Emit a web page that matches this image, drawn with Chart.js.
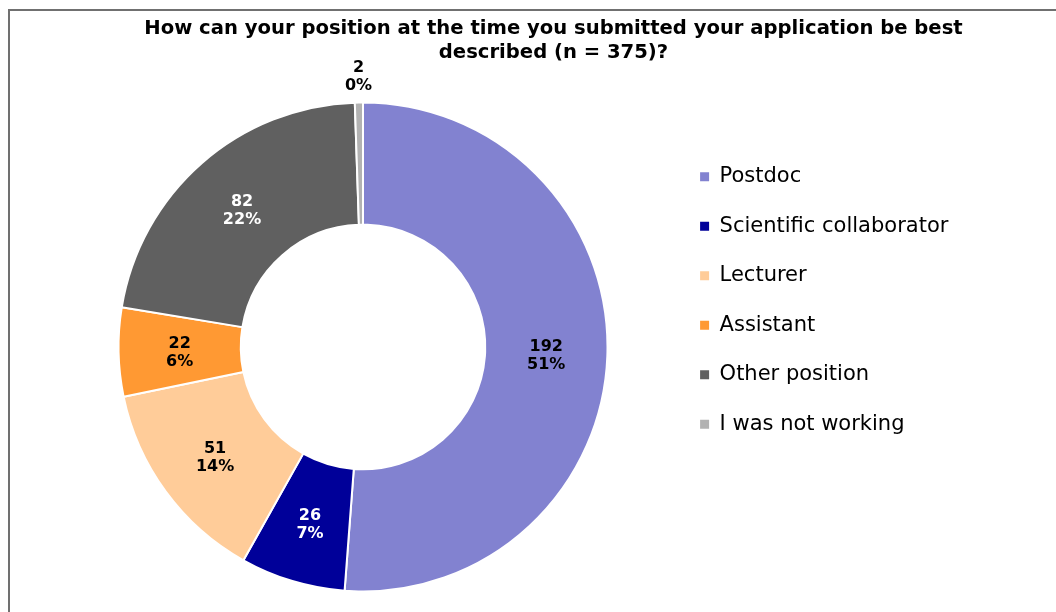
<!DOCTYPE html>
<html>
<head>
<meta charset="utf-8">
<script src="https://cdn.jsdelivr.net/npm/chart.js@4.4.1/dist/chart.umd.min.js"></script>
<style>
html,body{margin:0;padding:0;background:#fff;}
canvas{display:block;}
</style>
</head>
<body>
<canvas id="c" width="1056" height="612"></canvas>
<script>
// ---- data ----
const categories = ['Postdoc', 'Scientific collaborator', 'Lecturer', 'Assistant', 'Other position', 'I was not working'];
const counts = [192, 26, 51, 22, 82, 2];
const percentLabels = ['51%', '7%', '14%', '6%', '22%', '0%'];
const titleLines = ['How can your position at the time you submitted your application be best', 'described (n = 375)?'];

// ---- style ----
const sliceColors = ['#8282D0', '#000099', '#FFCC99', '#FF9933', '#606060', '#B2B2B2'];
const labelTextColors = ['#000000', '#FFFFFF', '#000000', '#000000', '#FFFFFF', '#000000'];
const LEGEND_WIDTH = 381;

Chart.defaults.font.family = '"DejaVu Sans", Verdana, sans-serif';
Chart.defaults.color = '#000';

const framePlugin = {
  id: 'frame',
  beforeDraw(chart) {
    const ctx = chart.ctx;
    ctx.save();
    ctx.fillStyle = '#ffffff';
    ctx.fillRect(0, 0, chart.width, chart.height);
    ctx.strokeStyle = '#707070';
    ctx.lineWidth = 2;
    ctx.strokeRect(9, 10, 1300, 1000);
    ctx.restore();
  }
};

const legendSizePlugin = {
  id: 'legendSize',
  beforeLayout(chart) {
    const lg = chart.legend;
    if (lg && !lg._patched) {
      const fit = lg.fit;
      lg.fit = function () { fit.call(this); this.width = LEGEND_WIDTH; };
      lg._patched = true;
    }
  }
};

const sliceLabelPlugin = {
  id: 'sliceLabels',
  afterDatasetsDraw(chart) {
    const ctx = chart.ctx;
    const meta = chart.getDatasetMeta(0);
    ctx.save();
    ctx.font = 'bold 16px "DejaVu Sans"';
    ctx.textAlign = 'center';
    ctx.textBaseline = 'middle';
    meta.data.forEach((arc, i) => {
      const p = arc.getProps(['x', 'y', 'startAngle', 'endAngle', 'innerRadius', 'outerRadius'], true);
      let x, y;
      if (p.endAngle - p.startAngle < 0.1) {
        const mid = (p.startAngle + p.endAngle) / 2;
        const r = p.outerRadius + 26;
        x = p.x + r * Math.cos(mid);
        y = p.y + r * Math.sin(mid);
      } else {
        const pos = arc.tooltipPosition(true);
        x = pos.x; y = pos.y + 2;
      }
      ctx.fillStyle = labelTextColors[i];
      ctx.fillText(String(counts[i]), x, y - 9);
      ctx.fillText(percentLabels[i], x, y + 9);
    });
    ctx.restore();
  }
};

const baseGen = Chart.overrides.doughnut.plugins.legend.labels.generateLabels;

new Chart(document.getElementById('c'), {
  type: 'doughnut',
  data: {
    labels: categories,
    datasets: [{
      data: counts,
      backgroundColor: sliceColors,
      borderColor: '#ffffff',
      borderWidth: 2,
      hoverOffset: 0
    }]
  },
  options: {
    responsive: false,
    devicePixelRatio: 1,
    animation: false,
    cutout: '50%',
    layout: { padding: { left: 54.4, right: 3.4, top: 0, bottom: 19.5 } },
    plugins: {
      tooltip: { enabled: false },
      title: {
        display: true,
        text: titleLines,
        color: '#000',
        font: { size: 19.6, weight: 'bold', lineHeight: 24 / 19.6 },
        padding: { top: 17, bottom: 36.5 }
      },
      legend: {
        position: 'right',
        align: 'start',
        title: { display: true, text: '', font: { size: 10, lineHeight: 1 }, padding: { top: 127.8, bottom: 0 } },
        labels: {
          boxWidth: 9,
          boxHeight: 9,
          padding: 28.5,
          color: '#000',
          font: { size: 21 },
          generateLabels(chart) {
            return baseGen(chart).map(l => Object.assign(l, { lineWidth: 0, strokeStyle: 'rgba(0,0,0,0)' }));
          }
        }
      }
    }
  },
  plugins: [framePlugin, legendSizePlugin, sliceLabelPlugin]
});
</script>
</body>
</html>
